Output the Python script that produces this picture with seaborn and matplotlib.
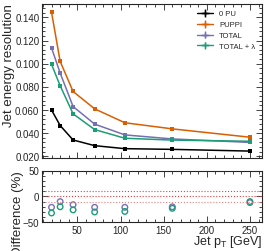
#!/usr/bin/env python3
"""
Jet energy resolution vs jet pT, with relative difference to PUPPI.
"""

import matplotlib

matplotlib.use("Agg")
import matplotlib.pyplot as plt
import pandas as pd
import seaborn as sns
from matplotlib.ticker import AutoMinorLocator, FormatStrFormatter, MultipleLocator

# values
pt_bins = [20, 30, 45, 70, 105, 160, 250]
res_0pu = [0.060, 0.0466, 0.0341, 0.0292, 0.0266, 0.0260, 0.0245]
res_puppi = [0.1446, 0.102, 0.076, 0.061, 0.049, 0.0437, 0.0365]
res_total = [0.1137, 0.092, 0.063, 0.0478, 0.0385, 0.035, 0.032]
res_total_lambda = [0.0995, 0.081, 0.0567, 0.0431, 0.0356, 0.034, 0.033]
diff_total = [-21, -10, -16, -21, -21, -20, -12]
diff_total_lambda = [-32, -20, -26, -30, -29, -23, -10]

series_names = ["0 PU", "PUPPI", "TOTAL", "TOTAL + λ"]
series_colors = ["black", "#d95f02", "#7570b3", "#1b9e77"]


def main() -> None:
    sns.set_theme(style="ticks")
    plt.rcParams["font.family"] = ["Liberation Sans", "DejaVu Sans"]
    plt.rcParams["mathtext.fontset"] = "custom"
    plt.rcParams["mathtext.rm"] = "Liberation Sans"
    plt.rcParams["mathtext.it"] = "Liberation Sans"

    res = pd.DataFrame(
        {
            "pt": pt_bins * 4,
            "res": res_0pu + res_puppi + res_total + res_total_lambda,
            "series": sum([[n] * len(pt_bins) for n in series_names], []),
        }
    )
    diff = pd.DataFrame(
        {
            "pt": pt_bins * 2,
            "diff": diff_total + diff_total_lambda,
            "series": ["TOTAL"] * len(pt_bins) + ["TOTAL + λ"] * len(pt_bins),
        }
    )
    palette = dict(zip(series_names, series_colors))

    fig = plt.figure(figsize=(2.66, 2.515), dpi=100)
    ax_top = fig.add_axes([0.158, 0.371, 0.827, 0.613])
    ax_bot = fig.add_axes([0.158, 0.114, 0.827, 0.206])

    sns.lineplot(
        ax=ax_top,
        data=res,
        x="pt",
        y="res",
        hue="series",
        palette=palette,
        marker="s",
        markersize=2.5,
        markeredgewidth=0,
        linewidth=1.1,
        legend=False,
    )
    handles = [
        ax_top.errorbar([], [], xerr=[], yerr=[], color=c, marker="+", lw=1.0,
                        markersize=4, label=n)
        for n, c in zip(series_names, series_colors)
    ]
    ax_top.legend(
        handles=handles,
        labels=series_names,
        loc="upper right",
        frameon=False,
        fontsize=5.5,
        handlelength=2.0,
        labelspacing=0.45,
        borderaxespad=0.5,
    )

    ax_top.set_ylim(0.0188, 0.152)
    ax_top.yaxis.set_major_locator(MultipleLocator(0.02))
    ax_top.yaxis.set_major_formatter(FormatStrFormatter("%.3f"))
    ax_top.set_xlabel("")
    ax_top.set_ylabel("Jet energy resolution", fontsize=9.5, loc="top")
    ax_top.yaxis.set_label_coords(-0.123, 1.0)

    for y, c in ((10, "#e04040"), (0, "#e04040"), (-10, "#f08080")):
        ax_bot.axhline(y, color=c, lw=0.8, ls=":")
    sns.scatterplot(
        ax=ax_bot,
        data=diff,
        x="pt",
        y="diff",
        hue="series",
        palette=palette,
        marker="o",
        s=16,
        linewidth=1.0,
        legend=False,
    )
    for coll in ax_bot.collections:
        coll.set_edgecolors(coll.get_facecolors())
        coll.set_facecolors("none")
    ax_bot.set_ylim(-50, 50)
    ax_bot.yaxis.set_major_locator(MultipleLocator(50))
    ax_bot.xaxis.set_major_locator(MultipleLocator(50))
    ax_bot.set_ylabel("Difference (%)", fontsize=9.5, loc="top")
    ax_bot.yaxis.set_label_coords(-0.082, 1.0)
    ax_bot.set_xlabel(r"Jet $p_{\mathrm{T}}$ [GeV]", fontsize=9, loc="right")
    ax_bot.xaxis.set_label_coords(1.0, -0.22)

    for ax in (ax_top, ax_bot):
        ax.set_xlim(9, 264)
        ax.xaxis.set_minor_locator(AutoMinorLocator(5))
        ax.yaxis.set_minor_locator(AutoMinorLocator(5))
        ax.tick_params(which="both", direction="in", top=True, right=True,
                       labelsize=7, width=0.6, pad=2)
        ax.tick_params(which="major", length=4)
        ax.tick_params(which="minor", length=2)
        for spine in ax.spines.values():
            spine.set_linewidth(0.8)
    ax_top.tick_params(labelbottom=False)
    ax_bot.tick_params(labelbottom=True)

    fig.savefig("out.png", dpi=100)


if __name__ == "__main__":
    main()
